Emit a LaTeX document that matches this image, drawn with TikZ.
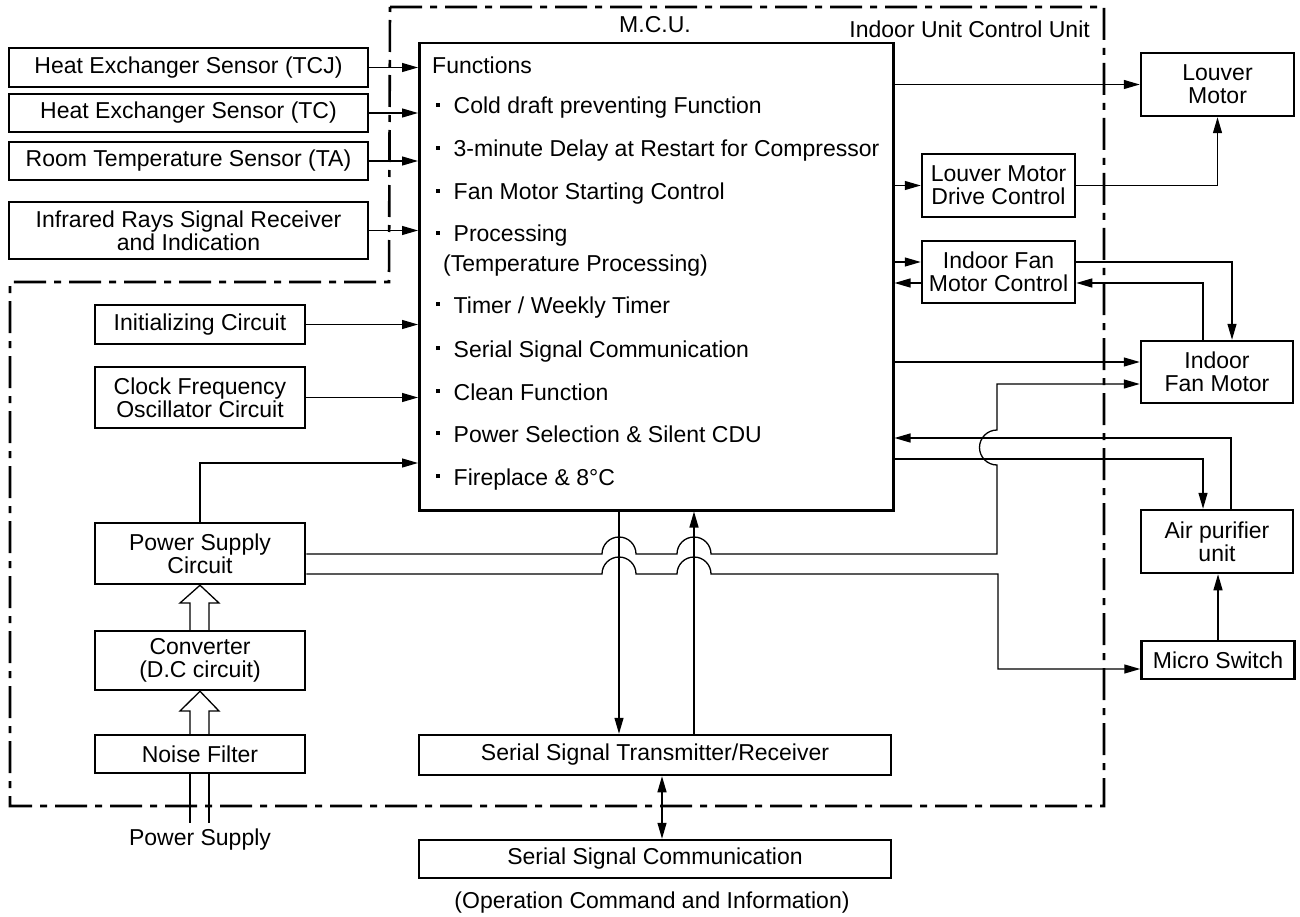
\documentclass[tikz,border=0pt]{standalone}
\usepackage{fontspec}
\setmainfont{Liberation Sans}
\usetikzlibrary{arrows.meta}
\newcommand\mybul{\rule[7pt]{3.5pt}{4pt}\hspace{14pt}}
\begin{document}
\begin{tikzpicture}[x=1pt,y=-1pt,
  font=\fontsize{23}{23}\selectfont,
  box/.style={draw, line width=2.5pt, inner sep=0pt, align=center},
  mtext/.style={anchor=base west, inner sep=0pt},
  lbl/.style={inner sep=0pt},
  ln/.style={line width=1.3pt},
  arr/.style={line width=1.3pt, -{Triangle[length=16pt,width=9pt]}},
  darr/.style={line width=1.3pt, {Triangle[length=16pt,width=9pt]}-{Triangle[length=16pt,width=9pt]}},
  bnd/.style={line width=2.6pt, dash pattern=on 32pt off 8pt on 7pt off 8pt}]
\useasboundingbox (0,0) rectangle (1300,917);

% boundary of the indoor unit control unit
\draw[bnd] (390,7) -- (1104,7) -- (1104,806) -- (10,806) -- (10,282) -- (389,282) -- cycle;

% left column
\node[box, minimum width=359, minimum height=39] (tcj) at (188.5,67.5) {Heat Exchanger Sensor (TCJ)};
\node[box, minimum width=359, minimum height=38] (tc) at (188.5,113) {Heat Exchanger Sensor (TC)};
\node[box, minimum width=359, minimum height=38] (ta) at (188.5,161) {Room Temperature Sensor (TA)};
\node[box, minimum width=359, minimum height=57] (ir) at (188.5,230.5) {Infrared Rays Signal Receiver\\and Indication};
\node[box, minimum width=210, minimum height=39] (init) at (200,324.5) {Initializing Circuit};
\node[box, minimum width=210, minimum height=61] (clk) at (200,397.5) {Clock Frequency\\Oscillator Circuit};
\node[box, minimum width=210, minimum height=61] (psc) at (200,553.5) {Power Supply\\Circuit};
\node[box, minimum width=210, minimum height=59] (conv) at (200,660.5) {Converter\\(D.C circuit)};
\node[box, minimum width=210, minimum height=38] (noise) at (200,754) {Noise Filter};
\node[lbl] (pslbl) at (200,840) {Power Supply};

% M.C.U.
\node[box, minimum width=474, minimum height=467, anchor=north west] (mcu) at (418,42) {};
\node[lbl] (mculbl) at (655,25) {M.C.U.};
\node[lbl, anchor=east] (iucu) at (1090,29) {Indoor Unit Control Unit};
\node[mtext] (f0) at (432,74) {Functions};
\node[mtext] (f1) at (436,114) {\mybul Cold draft preventing Function};
\node[mtext] (f2) at (436,157) {\mybul 3-minute Delay at Restart for Compressor};
\node[mtext] (f3) at (436,200) {\mybul Fan Motor Starting Control};
\node[mtext] (f4) at (436,242) {\mybul Processing};
\node[mtext] (f4b) at (443,271) {(Temperature Processing)};
\node[mtext] (f5) at (436,313) {\mybul Timer / Weekly Timer};
\node[mtext] (f6) at (436,357) {\mybul Serial Signal Communication};
\node[mtext] (f7) at (436,400) {\mybul Clean Function};
\node[mtext] (f8) at (436,442) {\mybul Power Selection \& Silent CDU};
\node[mtext] (f9) at (436,485) {\mybul Fireplace \& 8°C};

% bottom
\node[box, minimum width=472, minimum height=40] (sstr) at (655,755) {Serial Signal Transmitter/Receiver};
\node[box, minimum width=472, minimum height=38] (ssc) at (655,859) {Serial Signal Communication};
\node[lbl] (oci) at (652,903) {(Operation Command and Information)};

% right column
\node[box, minimum width=153, minimum height=63] (lm) at (1217.5,84.5) {Louver\\Motor};
\node[box, minimum width=153, minimum height=63] (lmdc) at (998.5,185.5) {Louver Motor\\Drive Control};
\node[box, minimum width=153, minimum height=62] (ifmc) at (998.5,272) {Indoor Fan\\Motor Control};
\node[box, minimum width=152, minimum height=62] (ifm) at (1217,372) {Indoor\\Fan Motor};
\node[box, minimum width=152, minimum height=63] (ap) at (1217,541.5) {Air purifier\\unit};
\node[box, minimum width=153, minimum height=38] (ms) at (1218,660) {Micro Switch};

% inputs to MCU
\draw[arr] (tcj.east) -- (mcu.west |- tcj.east);
\draw[arr] (tc.east) -- (mcu.west |- tc.east);
\draw[arr] (ta.east) -- (mcu.west |- ta.east);
\draw[arr] (ir.east) -- (mcu.west |- ir.east);
\draw[arr] (init.east) -- (mcu.west |- init.east);
\draw[arr] (clk.east) -- (mcu.west |- clk.east);
\draw[arr] (psc.north) -- (psc.north |- 0,463) -- (mcu.west |- 0,463);

% power chain (hollow arrows)
\draw[ln] (190,0 |- noise.north) -- (190,711) -- (180,711) -- (conv.south) -- (219,711) -- (209,711) -- (209,0 |- noise.north);
\draw[ln] (190,0 |- conv.north) -- (190,603) -- (180,603) -- (psc.south) -- (219,603) -- (209,603) -- (209,0 |- conv.north);
\draw[ln] (190,0 |- noise.south) -- (190,823);
\draw[ln] (209,0 |- noise.south) -- (209,823);

% power supply circuit outputs with hops
\draw[arr] (psc.east |- 0,554) -- (602,554) arc[start angle=180,end angle=0,radius=17pt]
  -- (677,554) arc[start angle=180,end angle=0,radius=17pt]
  -- (997,554) -- (997,465) arc[start angle=270,end angle=90,radius=17.5pt]
  -- (997,384) -- (ifm.west |- 0,384);
\draw[arr] (psc.east |- 0,574) -- (602,574) arc[start angle=180,end angle=0,radius=17pt]
  -- (677,574) arc[start angle=180,end angle=0,radius=17pt]
  -- (998,574) -- (998,669) -- (ms.west |- 0,669);

% MCU <-> serial transmitter
\draw[arr] (619,0 |- mcu.south) -- (619,0 |- sstr.north);
\draw[arr] (694,0 |- sstr.north) -- (694,0 |- mcu.south);
\draw[darr] (662,0 |- sstr.south) -- (662,0 |- ssc.north);

% right side connections
\draw[arr] (mcu.east |- lm.west) -- (lm.west);
\draw[arr] (mcu.east |- lmdc.west) -- (lmdc.west);
\draw[arr] (lmdc.east) -- (lm.south |- lmdc.east) -- (lm.south);
\draw[arr] (mcu.east |- 0,262) -- (ifmc.west |- 0,262);
\draw[arr] (ifmc.west |- 0,283) -- (mcu.east |- 0,283);
\draw[arr] (ifmc.east |- 0,262) -- (1232,262) -- (1232,0 |- ifm.north);
\draw[arr] (1203,0 |- ifm.north) -- (1203,283) -- (ifmc.east |- 0,283);
\draw[arr] (mcu.east |- 0,362) -- (ifm.west |- 0,362);
\draw[arr] (1231,0 |- ap.north) -- (1231,438) -- (mcu.east |- 0,438);
\draw[arr] (mcu.east |- 0,459) -- (1203,459) -- (1203,0 |- ap.north);
\draw[arr] (ms.north) -- (ms.north |- ap.south);
\end{tikzpicture}
\end{document}
